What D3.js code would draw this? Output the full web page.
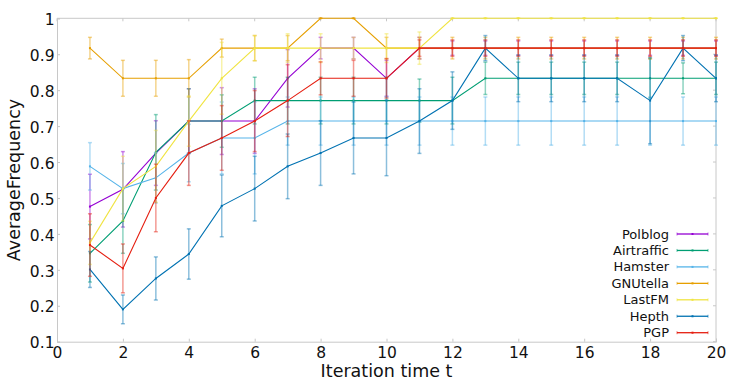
<!DOCTYPE html>
<html><head><meta charset="utf-8">
<script src="https://cdn.jsdelivr.net/npm/d3@7"></script>
<style>
html,body{margin:0;padding:0;background:#fff;}
svg{display:block;font-family:"DejaVu Sans",Verdana,sans-serif;}
</style></head>
<body><svg id="chart" width="747" height="385"></svg>
<script>
const iterations = d3.range(1, 21);
const xTicks = [0,2,4,6,8,10,12,14,16,18,20];
const yTicks = [0.1,0.2,0.3,0.4,0.5,0.6,0.7,0.8,0.9,1];
const seriesNames = ["Polblog","Airtraffic","Hamster","GNUtella","LastFM","Hepth","PGP"];
const seriesColors = ["#9400d3","#009e73","#56b4e9","#e69f00","#f0e442","#0072b2","#e51e10"];

const polblog    = [0.476,0.524,0.625,0.714,0.714,0.714,0.833,0.917,0.917,0.833,0.917,0.917,0.917,0.917,0.917,0.917,0.917,0.917,0.917,0.917];
const polblogErr = [0.09,0.105,0.09,0.09,0.093,0.09,0.08,0.03,0.03,0.05,0.03,0.02,0.02,0.02,0.02,0.02,0.02,0.02,0.02,0.02];
const airtraffic    = [0.346,0.436,0.627,0.714,0.714,0.771,0.771,0.771,0.771,0.771,0.771,0.771,0.833,0.833,0.833,0.833,0.833,0.833,0.833,0.833];
const airtrafficErr = [0.08,0.09,0.105,0.09,0.073,0.065,0.065,0.065,0.065,0.065,0.06,0.065,0.045,0.045,0.045,0.045,0.045,0.055,0.043,0.045];
const hamster    = [0.588,0.526,0.556,0.625,0.667,0.667,0.714,0.714,0.714,0.714,0.714,0.714,0.714,0.714,0.714,0.714,0.714,0.714,0.714,0.714];
const hamsterErr = [0.066,0.07,0.07,0.08,0.1,0.1,0.067,0.067,0.067,0.067,0.067,0.067,0.067,0.067,0.067,0.067,0.067,0.067,0.067,0.067];
const gnutella    = [0.917,0.833,0.833,0.833,0.917,0.917,0.917,1,1,0.917,0.917,0.917,0.917,0.917,0.917,0.917,0.917,0.917,0.917,0.917];
const gnutellaErr = [0.03,0.05,0.05,0.052,0.025,0.035,0.035,0,0,0.03,0.03,0.03,0.03,0.03,0.03,0.03,0.03,0.03,0.03,0.03];
const lastfm    = [0.375,0.526,0.588,0.714,0.833,0.917,0.917,0.917,0.917,0.917,0.917,1,1,1,1,1,1,1,1,1];
const lastfmErr = [0.06,0.09,0.1,0.07,0.1,0.035,0.04,0.04,0.03,0.04,0.045,0,0,0,0,0,0,0,0,0];
const hepth    = [0.301,0.19,0.276,0.344,0.478,0.526,0.588,0.625,0.667,0.667,0.714,0.771,0.917,0.833,0.833,0.833,0.833,0.771,0.917,0.833];
const hepthErr = [0.05,0.04,0.06,0.07,0.086,0.09,0.09,0.09,0.1,0.105,0.09,0.08,0.035,0.065,0.065,0.065,0.065,0.12,0.035,0.065];
const pgp    = [0.369,0.304,0.5,0.625,0.667,0.714,0.771,0.833,0.833,0.833,0.917,0.917,0.917,0.917,0.917,0.917,0.917,0.917,0.917,0.917];
const pgpErr = [0.087,0.068,0.094,0.09,0.09,0.085,0.1,0.046,0.05,0.055,0.023,0.023,0.023,0.023,0.023,0.023,0.023,0.023,0.023,0.023];

const seriesValues = [polblog, airtraffic, hamster, gnutella, lastfm, hepth, pgp];
const seriesErrors = [polblogErr, airtrafficErr, hamsterErr, gnutellaErr, lastfmErr, hepthErr, pgpErr];

const svg = d3.select("#chart");
const L = 57, R = 716, T = 18.3, B = 341.7;
const x = d3.scaleLinear().domain([0,20]).range([L,R]);
const y = d3.scaleLinear().domain([0.1,1]).range([B,T]);
const gridColor = "#c8c8c8";

svg.append("line").attr("x1",L).attr("x2",R).attr("y1",T).attr("y2",T).attr("stroke",gridColor);
svg.append("line").attr("x1",R).attr("x2",R).attr("y1",T).attr("y2",B).attr("stroke",gridColor);
svg.append("g").selectAll("line").data(xTicks).join("line")
  .attr("x1",d=>x(d)).attr("x2",d=>x(d)).attr("y1",T).attr("y2",T+3).attr("stroke",gridColor);
svg.append("g").selectAll("line").data(yTicks).join("line")
  .attr("x1",R-3).attr("x2",R).attr("y1",d=>y(d)).attr("y2",d=>y(d)).attr("stroke",gridColor);

const xAxis = svg.append("g").attr("transform",`translate(0,${B})`)
  .call(d3.axisBottom(x).tickValues(xTicks).tickSize(-3).tickPadding(5).tickFormat(d3.format("d")));
const yAxis = svg.append("g").attr("transform",`translate(${L},0)`)
  .call(d3.axisLeft(y).tickValues(yTicks).tickSize(-3).tickPadding(2.5).tickFormat(d3.format("~g")));
[xAxis,yAxis].forEach(g=>{
  g.select(".domain").attr("stroke",gridColor);
  g.selectAll(".tick line").attr("stroke",gridColor);
  g.selectAll("text").attr("fill","#111").style("font-size","15.5px").style("font-family",'"DejaVu Sans",sans-serif');
});
yAxis.selectAll("text").attr("dy","0.4em");

svg.append("text").attr("x",(L+R)/2).attr("y",377).attr("text-anchor","middle")
  .style("font-size","17.5px").attr("fill","#111").text("Iteration time t");
svg.append("text").attr("transform",`translate(19.5,${(T+B)/2}) rotate(-90)`).attr("text-anchor","middle")
  .style("font-size","17.5px").attr("fill","#111").text("AverageFrequency");

const line = d3.line().x(d=>x(d.t)).y(d=>y(d.v));
const plot = svg.append("g");
seriesNames.forEach((name,i)=>{
  const col = seriesColors[i];
  const data = iterations.map((t,j)=>({t, v: seriesValues[i][j], e: seriesErrors[i][j]}));
  const g = plot.append("g");
  const bars = g.append("g").attr("stroke",col).attr("stroke-opacity",0.45).attr("stroke-width",1.5);
  bars.selectAll(".bar").data(data).join("line")
    .attr("x1",d=>x(d.t)).attr("x2",d=>x(d.t)).attr("y1",d=>y(d.v-d.e)).attr("y2",d=>y(d.v+d.e));
  bars.selectAll(".capT").data(data).join("line")
    .attr("x1",d=>x(d.t)-2).attr("x2",d=>x(d.t)+2).attr("y1",d=>y(d.v+d.e)).attr("y2",d=>y(d.v+d.e));
  bars.selectAll(".capB").data(data).join("line")
    .attr("x1",d=>x(d.t)-2).attr("x2",d=>x(d.t)+2).attr("y1",d=>y(d.v-d.e)).attr("y2",d=>y(d.v-d.e));
  g.append("path").datum(data).attr("d",line).attr("fill","none").attr("stroke",col).attr("stroke-width",1.1);
  g.selectAll("rect").data(data).join("rect")
    .attr("x",d=>x(d.t)-1).attr("y",d=>y(d.v)-1).attr("width",2).attr("height",2).attr("fill",col);
});

const lg = svg.append("g");
seriesNames.forEach((name,i)=>{
  const yy = 234 + i*16.45;
  lg.append("text").attr("x",669).attr("y",yy).attr("dy","0.35em").attr("text-anchor","end")
    .style("font-size","13px").attr("fill","#111").text(name);
  const col = seriesColors[i];
  lg.append("line").attr("x1",677).attr("x2",708).attr("y1",yy).attr("y2",yy).attr("stroke",col).attr("stroke-width",1.3);
  [677,708].forEach(xx=>lg.append("line").attr("x1",xx).attr("x2",xx).attr("y1",yy-1.5).attr("y2",yy+1.5).attr("stroke",col).attr("stroke-opacity",0.6));
  lg.append("rect").attr("x",691.5).attr("y",yy-1).attr("width",2).attr("height",2).attr("fill",col);
});
</script></body></html>
